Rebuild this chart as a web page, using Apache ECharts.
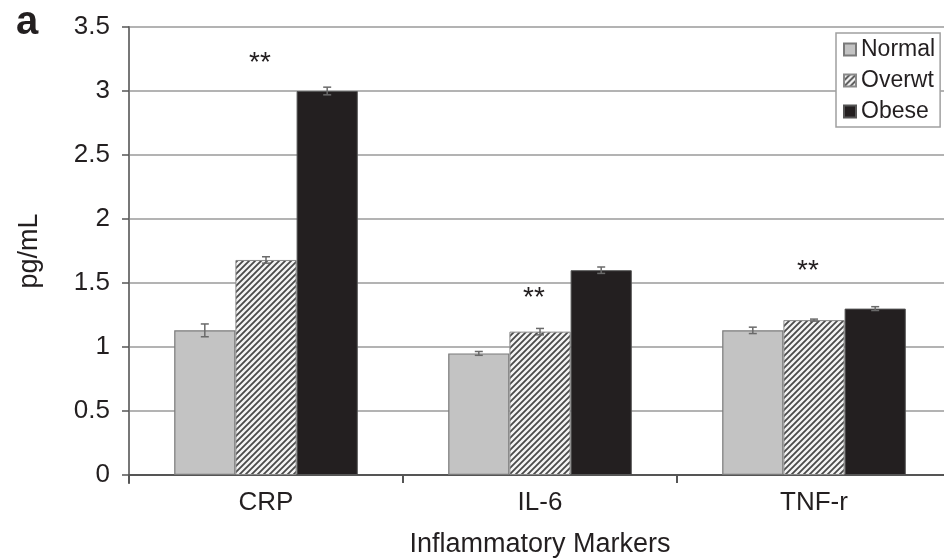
<!DOCTYPE html>
<html>
<head>
<meta charset="utf-8">
<script src="https://cdn.jsdelivr.net/npm/echarts@6/dist/echarts.min.js"></script>
<style>html,body{margin:0;padding:0;background:#fff}#c{width:944px;height:560px}</style>
</head>
<body>
<div id="c"></div>
<script>
const categories = ['CRP', 'IL-6', 'TNF-r'];
const seriesNames = ['Normal', 'Overwt', 'Obese'];
const normalValues = [1.13, 0.95, 1.13];
const overwtValues = [1.68, 1.12, 1.21];
const obeseValues = [3.00, 1.60, 1.30];
const normalErr = [0.05, 0.015, 0.025];
const overwtErr = [0.025, 0.025, 0.008];
const obeseErr = [0.03, 0.025, 0.015];
const sigLabels = ['**', '**', '**'];
const sigValues = [3.22, 1.38, 1.59];
const yTicks = [0, 0.5, 1, 1.5, 2, 2.5, 3, 3.5];

const FONT = '"Liberation Sans", Arial, Helvetica, sans-serif';
const TXT = '#231f20';

function hatch() {
  const c = document.createElement('canvas');
  c.width = 6; c.height = 6;
  const g = c.getContext('2d');
  g.fillStyle = '#f4f4f4';
  g.fillRect(0, 0, 6, 6);
  g.strokeStyle = '#4a4a4a';
  g.lineWidth = 1.8;
  g.beginPath();
  g.moveTo(-1, 7); g.lineTo(7, -1);
  g.moveTo(-4, 4); g.lineTo(4, -4);
  g.moveTo(2, 10); g.lineTo(10, 2);
  g.stroke();
  return c;
}
const hatchPattern = { image: hatch(), repeat: 'repeat' };

const values = [normalValues, overwtValues, obeseValues];
const errs = [normalErr, overwtErr, obeseErr];
const GAP = 0.33;

const errData = [];
for (let s = 0; s < 3; s++) for (let i = 0; i < categories.length; i++) errData.push([i, values[s][i], errs[s][i], s]);
const sigData = categories.map((c, i) => [i, sigValues[i], sigLabels[i]]);

const chart = echarts.init(document.getElementById('c'));
chart.setOption({
  animation: false,
  textStyle: { fontFamily: FONT },
  title: { text: 'a', left: 11, top: -2, textStyle: { fontFamily: FONT, fontSize: 40, fontWeight: 'bold', color: TXT } },
  legend: {
    orient: 'vertical', left: 836, top: 33,
    padding: [5, 5, 4, 7], itemGap: 8, itemWidth: 12, itemHeight: 12,
    backgroundColor: '#fff', borderColor: '#a0a0a0', borderWidth: 1.5, borderRadius: 0,
    textStyle: { fontSize: 23, color: TXT, fontFamily: FONT, padding: [0, 0, 0, 0] },
    data: seriesNames.map(n => ({ name: n, icon: 'rect' }))
  },
  grid: { left: 129, top: 27, bottom: 85, width: 822, containLabel: false, outerBoundsMode: 'none' },
  xAxis: {
    type: 'category', data: categories,
    name: 'Inflammatory Markers', nameLocation: 'middle', nameGap: 56,
    nameTextStyle: { fontSize: 27, color: TXT, fontFamily: FONT },
    axisLine: { lineStyle: { color: '#555', width: 2 } },
    axisTick: { show: true, length: 8, lineStyle: { color: '#555', width: 2 } },
    axisLabel: { fontSize: 26, color: TXT, margin: 15, fontFamily: FONT }
  },
  yAxis: {
    type: 'value', min: 0, max: 3.5, interval: 0.5,
    name: 'pg/mL', nameLocation: 'middle', nameGap: 86,
    nameTextStyle: { fontSize: 27, color: TXT, fontFamily: FONT },
    axisLine: { show: true, lineStyle: { color: '#777', width: 2 } },
    axisTick: { show: true, length: 7, lineStyle: { color: '#555', width: 1.5 } },
    axisLabel: { fontSize: 26, color: TXT, margin: 19, fontFamily: FONT, formatter: v => String(v) },
    splitLine: { lineStyle: { color: '#9a9a9a', width: 1.5 } }
  },
  graphic: [
    { type: 'line', shape: { x1: 129, y1: 475, x2: 129, y2: 484 }, style: { stroke: '#777', lineWidth: 2 } }
  ],
  series: [
    { name: 'Normal', type: 'bar', data: normalValues, barGap: '0%', barCategoryGap: (GAP * 100) + '%',
      itemStyle: { color: '#c3c3c3', borderColor: '#7a7a7a', borderWidth: 1.2 } },
    { name: 'Overwt', type: 'bar', data: overwtValues,
      itemStyle: { color: hatchPattern, borderColor: '#8a8a8a', borderWidth: 1 } },
    { name: 'Obese', type: 'bar', data: obeseValues,
      itemStyle: { color: '#231f20', borderColor: '#555', borderWidth: 1 } },
    { type: 'custom', data: errData, z: 10, silent: true,
      renderItem: function (params, api) {
        const ci = api.value(0), v = api.value(1), e = api.value(2), s = api.value(3);
        const bw = api.size([1, 0])[0] * (1 - GAP) / 3;
        const c = api.coord([ci, v]);
        const x = c[0] + (s - 1) * bw;
        const yt = api.coord([ci, v + e])[1], yb = api.coord([ci, v - e])[1];
        const st = { stroke: '#6a6a6a', lineWidth: 1.5 };
        return { type: 'group', children: [
          { type: 'line', shape: { x1: x, y1: yt, x2: x, y2: yb }, style: st },
          { type: 'line', shape: { x1: x - 4, y1: yt, x2: x + 4, y2: yt }, style: st },
          { type: 'line', shape: { x1: x - 4, y1: yb, x2: x + 4, y2: yb }, style: st }
        ]};
      }
    },
    { type: 'custom', data: sigData, z: 10, silent: true,
      renderItem: function (params, api) {
        const ci = api.value(0), v = api.value(1);
        const c = api.coord([ci, v]);
        return { type: 'text', x: c[0] - 6, y: c[1],
          style: { text: sigLabels[params.dataIndex], fill: TXT, font: '28px ' + FONT, align: 'center', verticalAlign: 'middle' } };
      }
    }
  ]
});
</script>
</body>
</html>
